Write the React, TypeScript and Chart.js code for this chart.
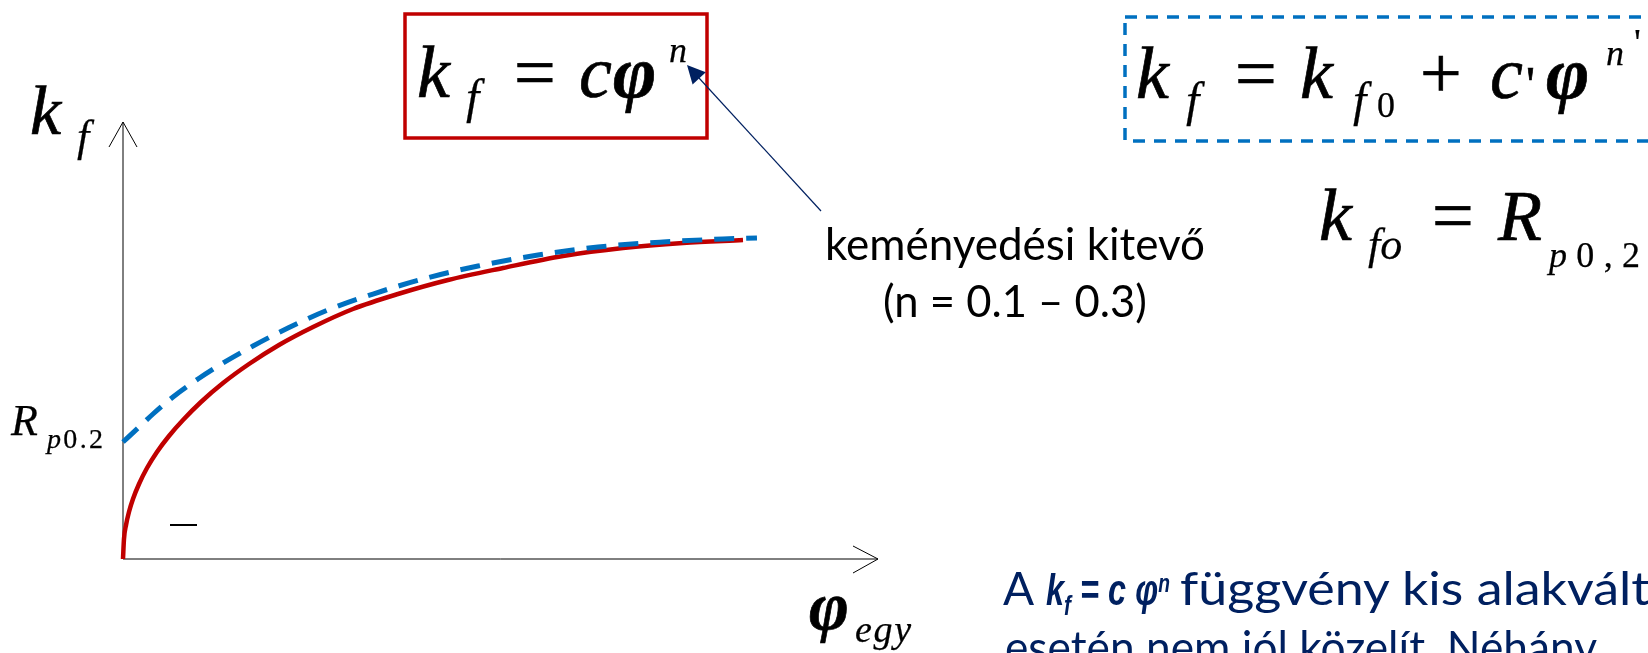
import React, { useEffect, useRef } from "react";
import { Chart, registerables } from "chart.js";

Chart.register(...registerables);

// Red curve: kf = c·φ^n  (strain φ, flow stress kf) – normalised units
const redStrain = [0, 0.0013, 0.004, 0.0079, 0.0132, 0.0212, 0.0318, 0.045, 0.0609, 0.0795, 0.1033, 0.1325, 0.1669, 0.2066, 0.2517, 0.3046, 0.3642, 0.4305, 0.5033, 0.5828, 0.6623, 0.7417, 0.8212];
const redStress = [0, 0.0458, 0.0778, 0.1076, 0.1373, 0.1716, 0.2082, 0.2449, 0.2815, 0.3181, 0.3593, 0.4027, 0.4462, 0.4897, 0.5309, 0.5721, 0.6064, 0.6384, 0.6659, 0.6934, 0.7117, 0.7231, 0.73];

// Blue dashed curve: kf = kf0 + c'·φ^n'  (starts at Rp0.2)
const blueStrain = [0, 0.0199, 0.0397, 0.0662, 0.0993, 0.1325, 0.1722, 0.2185, 0.2715, 0.3311, 0.3974, 0.4702, 0.5497, 0.6291, 0.7152, 0.7947, 0.8397];
const blueStress = [0.2677, 0.2998, 0.3318, 0.3707, 0.4119, 0.4485, 0.4874, 0.5286, 0.5698, 0.6064, 0.6407, 0.6705, 0.6957, 0.714, 0.7254, 0.7323, 0.7346];

const axisPlugin = {
  id: "arrowAxes",
  beforeDatasetsDraw(chart: any) {
    const { ctx, chartArea } = chart;
    const { left, right, top, bottom } = chartArea;
    ctx.save();
    ctx.strokeStyle = "#000";
    ctx.lineWidth = 1;
    ctx.beginPath();
    ctx.moveTo(left, bottom);
    ctx.lineTo(left, top);
    ctx.moveTo(left, bottom);
    ctx.lineTo(right, bottom);
    ctx.moveTo(left - 14, top + 25);
    ctx.lineTo(left, top);
    ctx.lineTo(left + 14, top + 25);
    ctx.moveTo(right - 25, bottom - 13);
    ctx.lineTo(right, bottom);
    ctx.lineTo(right - 25, bottom + 14);
    ctx.stroke();
    ctx.restore();
  },
};

const serif = "'Liberation Serif', 'Times New Roman', serif";
const sans = "Lato, 'Noto Sans', sans-serif";
const sansBI = "'Liberation Sans', 'DejaVu Sans', sans-serif";
const navy = "#002060";

export default function App() {
  const ref = useRef<HTMLCanvasElement | null>(null);

  useEffect(() => {
    if (!ref.current) return;
    const chart = new Chart(ref.current, {
      type: "scatter",
      data: {
        datasets: [
          {
            label: "kf = kf0 + c'φ^n'",
            data: blueStrain.map((x, i) => ({ x, y: blueStress[i] })),
            showLine: true,
            borderColor: "#0070C0",
            borderWidth: 5,
            borderDash: [20, 12],
            borderCapStyle: "butt",
            pointRadius: 0,
            cubicInterpolationMode: "monotone",
            order: 0,
          } as any,
          {
            label: "kf = cφ^n",
            data: redStrain.map((x, i) => ({ x, y: redStress[i] })),
            showLine: true,
            borderColor: "#C00000",
            borderWidth: 4.5,
            pointRadius: 0,
            cubicInterpolationMode: "monotone",
            order: 1,
          } as any,
        ],
      },
      options: {
        responsive: false,
        animation: false,
        layout: { padding: { left: 123, right: 770, top: 122, bottom: 94 } },
        scales: {
          x: { type: "linear", min: 0, max: 1, display: false },
          y: { type: "linear", min: 0, max: 1, display: false },
        },
        plugins: { legend: { display: false }, tooltip: { enabled: false } },
        clip: false,
      } as any,
      plugins: [axisPlugin],
    });
    return () => chart.destroy();
  }, []);

  const it = { fontFamily: serif, fontStyle: "italic" as const };
  const up = { fontFamily: serif };
  const bi = { fontFamily: serif, fontStyle: "italic" as const, fontWeight: 700 };
  const heavy = { stroke: "#000", strokeWidth: 0.7 };
  const light = { stroke: "#000", strokeWidth: 0.25 };

  return (
    <div style={{ position: "absolute", left: 0, top: 0, width: 1648, height: 653, background: "#fff", overflow: "hidden" }}>
      <canvas ref={ref} width={1648} height={653} style={{ position: "absolute", left: 0, top: 0, width: 1648, height: 653 }} />
      <svg width={1648} height={653} style={{ position: "absolute", left: 0, top: 0 }}>
        {/* red formula box */}
        <rect x={405} y={14} width={302} height={124} fill="none" stroke="#C00000" strokeWidth={3.5} />
        <g {...heavy}>
          <text x={417} y={97} fontSize={74} style={it}>k</text>
          <text x={514} y={97} fontSize={74} style={up}>=</text>
          <text x={579} y={97} fontSize={74} style={it}>c</text>
          <text x={613} y={97} fontSize={74} style={bi}>φ</text>
        </g>
        <g {...light}>
          <text x={466} y={113} fontSize={48} style={it}>f</text>
          <text x={669} y={62} fontSize={36} style={it}>n</text>
        </g>

        {/* blue dashed formula box */}
        <rect x={1125} y={17} width={620} height={124} fill="none" stroke="#0070C0" strokeWidth={3.5} strokeDasharray="12 9" />
        <g {...heavy}>
          <text x={1136} y={98} fontSize={74} style={it}>k</text>
          <text x={1235} y={98} fontSize={74} style={up}>=</text>
          <text x={1300} y={98} fontSize={74} style={it}>k</text>
          <text x={1420} y={98} fontSize={74} style={up}>+</text>
          <text x={1490} y={98} fontSize={74} style={it}>c</text>
          <text x={1526} y={101} fontSize={50} style={up}>'</text>
          <text x={1546} y={98} fontSize={74} style={bi}>φ</text>
        </g>
        <g {...light}>
          <text x={1186} y={116} fontSize={48} style={it}>f</text>
          <text x={1353} y={116} fontSize={48} style={it}>f</text>
          <text x={1377} y={117} fontSize={36} style={up}>0</text>
          <text x={1606} y={65} fontSize={36} style={it}>n</text>
          <text x={1634} y={55} fontSize={38} style={up}>'</text>
        </g>

        {/* kfo = Rp0,2 */}
        <g {...heavy}>
          <text x={1319} y={240} fontSize={74} style={it}>k</text>
          <text x={1432} y={240} fontSize={74} style={up}>=</text>
          <text x={1498} y={240} fontSize={72} style={it}>R</text>
        </g>
        <g {...light}>
          <text x={1368} y={259} fontSize={44} style={it}>fo</text>
          <text x={1549} y={267} fontSize={36} style={up} textLength={91} lengthAdjust="spacing">
            <tspan style={{ fontStyle: "italic" }}>p</tspan>0,2
          </text>
        </g>

        {/* axis labels */}
        <g {...heavy}>
          <text x={30} y={134} fontSize={70} style={it}>k</text>
          <text x={809} y={629} fontSize={68} style={bi}>φ</text>
        </g>
        <g {...light}>
          <text x={77} y={151} fontSize={44} style={it}>f</text>
          <text x={11} y={435} fontSize={44} style={it}>R</text>
          <text x={47} y={448} fontSize={28} style={up} textLength={56} lengthAdjust="spacing">
            <tspan style={{ fontStyle: "italic" }}>p</tspan>0.2
          </text>
          <text x={855} y={642} fontSize={38} style={it} textLength={56} lengthAdjust="spacing">egy</text>
        </g>
        <line x1={170} y1={525} x2={197} y2={525} stroke="#000" strokeWidth={2} />

        {/* annotation */}
        <line x1={821} y1={211} x2={699} y2={78} stroke={navy} strokeWidth={1.2} />
        <polygon points="687,65 692.6,84.4 705.8,72.2" fill={navy} />
        <text x={825} y={260} fontSize={44} fontFamily={sans} fill="#000" textLength={380} lengthAdjust="spacingAndGlyphs">keményedési kitevő</text>
        <text x={883} y={317} fontSize={44} fontFamily={sans} fill="#000" textLength={264} lengthAdjust="spacingAndGlyphs">(n = 0.1 – 0.3)</text>

        {/* bottom note */}
        <g fill={navy}>
          <text x={1003} y={605} fontSize={46} fontFamily={sans}>A</text>
          <g transform="translate(1046,605) scale(0.74,1)">
            <text x={0} y={0} fontSize={44} fontFamily={sansBI} fontStyle="italic" fontWeight={700}>
              k<tspan dy={10} fontSize={28}>f</tspan>
              <tspan dy={-10}> = c φ</tspan>
              <tspan dy={-13} fontSize={26}>n</tspan>
            </text>
          </g>
          <text x={1180} y={605} fontSize={46} fontFamily={sans} textLength={470} lengthAdjust="spacingAndGlyphs">függvény kis alakvált</text>
          <text x={1005} y={664} fontSize={46} fontFamily={sans} textLength={592} lengthAdjust="spacingAndGlyphs">esetén nem jól közelít. Néhány</text>
        </g>
      </svg>
    </div>
  );
}
